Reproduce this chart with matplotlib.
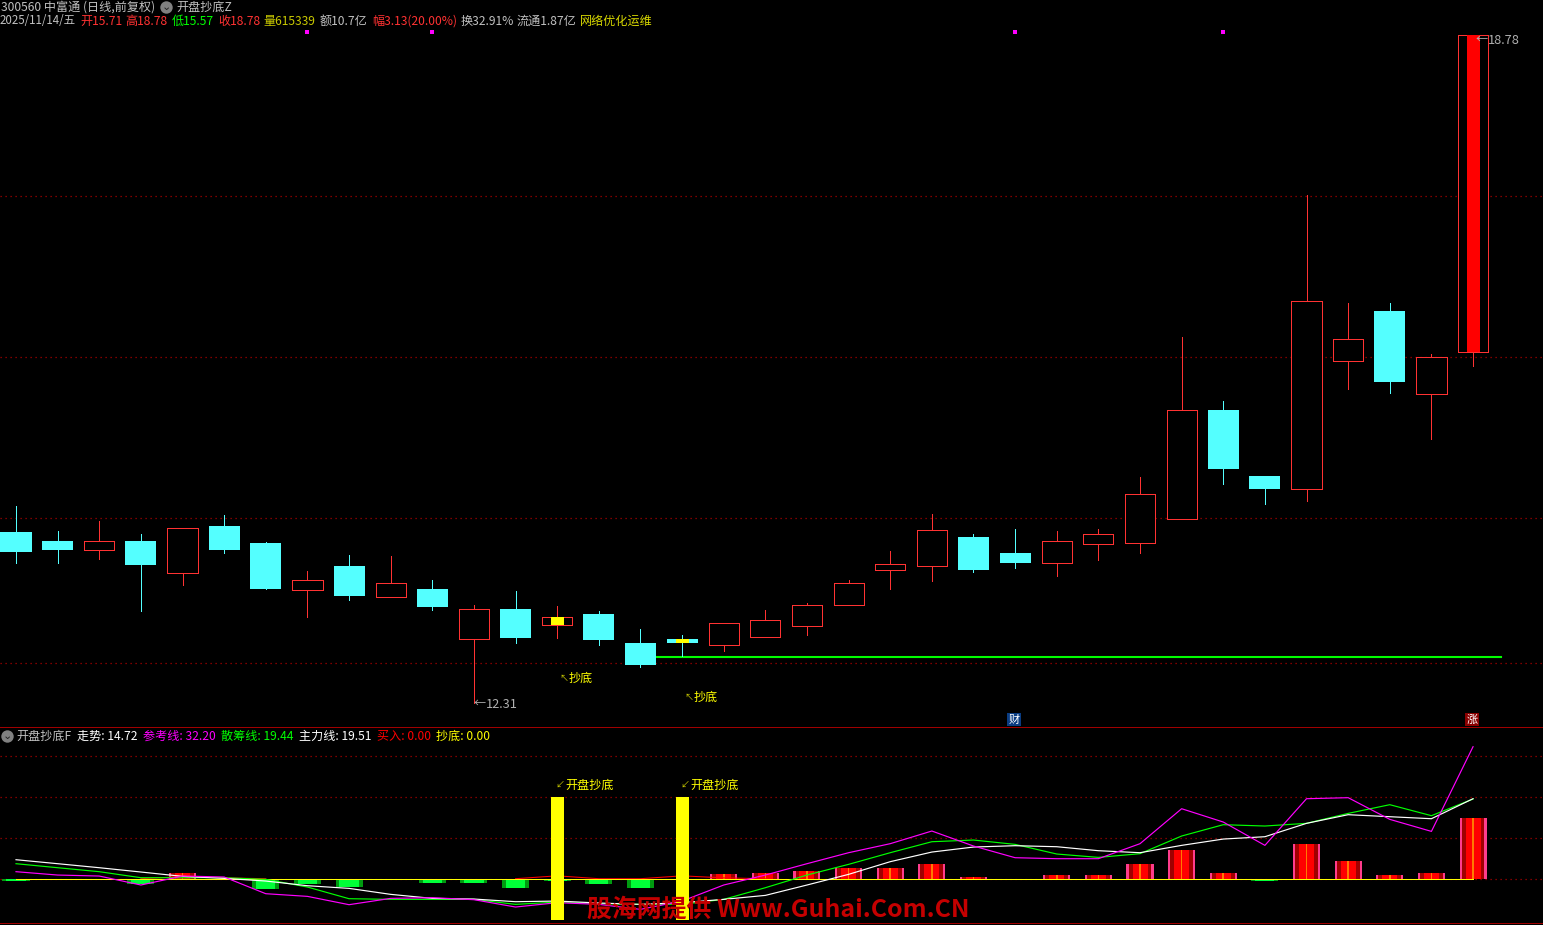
import matplotlib
matplotlib.use('Agg')
import matplotlib.pyplot as plt
import numpy as np

plt.rcParams['font.family'] = ['Noto Sans CJK SC', 'DejaVu Sans']

# K线数据
highs = [14.22, 13.97, 14.07, 13.94, 14.00, 14.13, 13.87, 13.59, 13.74, 13.73, 13.50, 13.26,
         13.39, 13.25, 13.20, 13.02, 12.97, 13.08, 13.21, 13.28, 13.50, 13.78, 14.14, 13.94,
         13.99, 13.97, 13.99, 14.50, 15.85, 15.23, 14.51, 17.23, 16.18, 16.18, 15.69, 18.78]
body_tops = [13.96, 13.88, 13.88, 13.88, 14.00, 14.02, 13.86, 13.50, 13.63, 13.47, 13.41, 13.22,
             13.22, 13.14, 13.17, 12.89, 12.93, 13.08, 13.11, 13.26, 13.47, 13.65, 13.98, 13.92,
             13.76, 13.88, 13.94, 14.33, 15.15, 15.15, 14.51, 16.20, 15.83, 16.11, 15.66, 18.78]
body_bots = [13.77, 13.79, 13.79, 13.64, 13.57, 13.79, 13.41, 13.40, 13.34, 13.33, 13.24, 12.93,
             12.94, 13.06, 12.92, 12.68, 12.89, 12.87, 12.95, 13.05, 13.26, 13.60, 13.63, 13.60,
             13.66, 13.66, 13.85, 13.86, 14.09, 14.57, 14.38, 14.38, 15.62, 15.42, 15.30, 15.71]
lows = [13.66, 13.66, 13.70, 13.20, 13.45, 13.76, 13.41, 13.14, 13.31, 13.33, 13.21, 12.31,
        12.89, 12.94, 12.87, 12.66, 12.76, 12.81, 12.95, 12.97, 13.26, 13.41, 13.49, 13.58,
        13.62, 13.54, 13.69, 13.76, 14.09, 14.43, 14.24, 14.26, 15.35, 15.31, 14.87, 15.57]
up_days = [2, 4, 7, 9, 11, 13, 17, 18, 19, 20, 21, 22, 25, 26, 27, 28, 31, 32, 34, 35]
yellow_days = [13, 16]
price_grid = [17.22, 15.66, 14.10, 12.69]
support_level = 12.75
top_marks = [7, 10, 24, 29]

# 副图指标
trend = [-0.5, -0.3, 0, -1.4, 1.5, -0.2, -2.6, -1.3, -2.1, -0.2, -1.1, -1.1,
         -2.3, -0.5, -1.3, -2.2, 0, 1.2, 1.5, 2.0, 2.5, 2.7, 3.6, 0.3,
         0, 1.0, 1.0, 3.5, 6.9, 1.5, -0.5, 8.5, 4.2, 1.0, 1.3, 14.72]
main_line = [4.63, 3.66, 2.68, 1.63, 0.57, 0.08, -0.57, -1.71, -2.36, -3.82, -4.80, -4.96,
             -5.61, -5.45, -5.93, -6.26, -5.85, -5.04, -4.07, -1.54, 1.06, 4.15, 6.50, 7.72,
             8.05, 7.80, 6.83, 6.34, 8.13, 9.67, 10.24, 13.50, 15.61, 15.12, 14.63, 19.51]
chip_line = [3.66, 2.68, 1.71, 0.24, 0.24, 0.24, -0.16, -2.03, -4.88, -5.04, -5.04, -5.04,
             -6.26, -5.69, -6.10, -6.26, -6.26, -5.04, -2.20, 0.89, 3.50, 6.34, 9.02, 9.43,
             8.37, 6.02, 5.20, 6.10, 10.41, 13.17, 12.85, 13.50, 15.93, 18.05, 15.37, 19.44]
ref_line = [1.71, 0.89, 0.65, -1.54, 0.65, 0.41, -3.66, -4.31, -6.34, -4.80, -4.63, -5.12,
            -6.91, -5.85, -6.26, -7.48, -5.45, -1.54, 0.89, 3.66, 6.34, 8.54, 11.63, 7.97,
            5.12, 4.88, 4.88, 8.54, 17.07, 13.82, 8.13, 19.51, 19.76, 14.47, 11.54, 32.20]
buy_days = [3, 4, 5, 6, 12, 13, 14, 15, 16, 17, 18]
buy_values = [0, 0.5, 0.2, 0, 0, 0.7, 0, 0, 0.7, 0.2, 0]
sub_grid = [30, 20, 10, 0]
stick_top = 20
stick_bottom = -10

RED = '#ff3232'
CYAN = '#54ffff'
YELLOW = '#ffff00'
GRID = '#a80000'
THIN = 0.68
W, H = 1543, 925

fig = plt.figure(figsize=(W / 100, H / 100), dpi=100, facecolor='black')
ax = fig.add_axes([0, 1 - 727 / H, 1, 727 / H], facecolor='black')
ax2 = fig.add_axes([0, 0, 1, 198 / H], facecolor='black')
over = fig.add_axes([0, 0, 1, 1])
over.patch.set_alpha(0)

xlim = (-16 / 41.63, (W - 16) / 41.63)
ax.set_xlim(xlim)
ax.set_ylim(18.78 - (727 - 35) / 103.2, 18.78 + 35 / 103.2)
ax2.set_xlim(xlim)
ax2.set_ylim((878.7 - 925) / 4.1, (878.7 - 727) / 4.1)
over.set_xlim(0, W)
over.set_ylim(H, 0)
for a in (ax, ax2, over):
    a.axis('off')

# 主图
for p in price_grid:
    ax.axhline(p, color=GRID, lw=0.9, ls=(0, (1, 3)), zorder=1)

for i in range(len(highs)):
    if i in up_days:
        ax.vlines(i, body_tops[i], highs[i], color=RED, lw=THIN, zorder=3, antialiased=False)
        ax.vlines(i, lows[i], body_bots[i], color=RED, lw=THIN, zorder=3, antialiased=False)
        ax.bar(i, body_tops[i] - body_bots[i], 0.725, bottom=body_bots[i],
               facecolor='black', edgecolor=RED, lw=THIN, zorder=4, antialiased=False)
    else:
        ax.vlines(i, lows[i], highs[i], color=CYAN, lw=THIN, zorder=3, antialiased=False)
        ax.bar(i, body_tops[i] - body_bots[i], 0.745, bottom=body_bots[i],
               color=CYAN, lw=0, zorder=4)
    if i in yellow_days:
        ax.bar(i, body_tops[i] - body_bots[i], 0.312, bottom=body_bots[i],
               color=YELLOW, lw=0, zorder=5)
ax.bar(35, body_tops[35] - body_bots[35], 0.312, bottom=body_bots[35], color='#ff0000', lw=0, zorder=5)

ax.plot([15.4, 35.67], [support_level, support_level], color='#00ff00', lw=1.5, zorder=2)
ax.scatter(top_marks, [18.81] * len(top_marks), marker='s', s=5, color='#ff00ff', lw=0, zorder=5)

# 副图
for v in sub_grid:
    ax2.axhline(v, color=GRID, lw=0.9, ls=(0, (1, 3)), zorder=1)

for i, v in enumerate(trend):
    if v > 0:
        ax2.bar(i, v, 0.65, color='#ff3c8c', lw=0, zorder=2)
        ax2.bar(i, v, 0.55, color='#a00000', lw=0, zorder=2.1)
        ax2.bar(i, v, 0.36, color='#ff0000', lw=0, zorder=2.2)
        ax2.bar(i, v, 0.04, color='#ff7a00', lw=0, zorder=2.3)
    elif v < 0:
        ax2.bar(i, v, 0.65, color='#009a10', lw=0, zorder=2)
        ax2.bar(i, v, 0.46, color='#00ff38', lw=0, zorder=2.1)

x = np.arange(len(trend))
# 买入线只画非零的几段，其余和抄底线重合
ax2.plot(buy_days[:4], buy_values[:4], color='#ff0000', lw=0.75, zorder=3)
ax2.plot(buy_days[4:], buy_values[4:], color='#ff0000', lw=0.75, zorder=3)
ax2.plot(x, [0] * len(x), color=YELLOW, lw=THIN, zorder=3.2, antialiased=False)
ax2.plot(x, chip_line, color='#00ff00', lw=0.85, zorder=4)
ax2.plot(x, main_line, color='white', lw=0.85, zorder=4.2)
ax2.plot(x, ref_line, color='#ff00ff', lw=0.85, zorder=4.4)
ax2.bar(yellow_days, [stick_top - stick_bottom] * 2, 0.312, bottom=stick_bottom,
        color=YELLOW, lw=0, zorder=5)

# 分隔线
over.plot([0, W], [727, 727], color='#a00000', lw=THIN, antialiased=False)
over.plot([0, W], [923, 923], color='#a00000', lw=THIN, antialiased=False)
over.plot([100, 288], [924.5, 924.5], color='#1a1aa0', lw=0.8)


def label(px, py, s, color='#c0c0c0', size=8.7, ha='left'):
    over.text(px, py, s, color=color, fontsize=size, va='center', ha=ha)


# 顶部文字
label(1, 7, '300560 中富通 (日线,前复权)')
over.scatter([166], [6.5], s=80, color='#808080', lw=0)
over.text(166, 6.5, '⌄', color='#202020', fontsize=8, ha='center', va='center', family='DejaVu Sans')
label(176, 7, '开盘抄底Z')
label(0, 21, '2025/11/14/五', size=8.3)
top_row = [(80, '开15.71', '#ff3232'), (125, '高18.78', '#ff3232'),
           (172, '低15.57', '#00ff00'), (218, '收18.78', '#ff3232'), (263, '量615339', '#c8c800'),
           (320, '额10.7亿', '#c0c0c0'), (372, '幅3.13(20.00%)', '#ff3232'), (461, '换32.91%', '#c0c0c0'),
           (517, '流通1.87亿', '#c0c0c0'), (580, '网络优化运维', '#d8d800')]
for px, s, c in top_row:
    label(px, 21, s, c)

# 副图标题
over.scatter([7], [736], s=80, color='#808080', lw=0)
over.text(7, 736, '⌄', color='#202020', fontsize=8, ha='center', va='center', family='DejaVu Sans')
sub_row = [(16, '开盘抄底F', '#c0c0c0'), (77, '走势: 14.72', '#ffffff'), (143, '参考线: 32.20', '#ff00ff'),
           (221, '散筹线: 19.44', '#00ff00'), (299, '主力线: 19.51', '#ffffff'), (377, '买入: 0.00', '#ff0000'),
           (436, '抄底: 0.00', '#ffff00')]
for px, s, c in sub_row:
    label(px, 736, s, c)

# 标注
label(568.5, 678, '↖', '#c8c800', size=6.5, ha='right')
label(569, 678, '抄底', YELLOW)
label(693.5, 697, '↖', '#c8c800', size=6.5, ha='right')
label(694, 697, '抄底', YELLOW)
label(564.5, 785, '↙', '#c8c800', size=6.5, ha='right')
label(565, 785, '开盘抄底', YELLOW)
label(689.5, 785, '↙', '#c8c800', size=6.5, ha='right')
label(690, 785, '开盘抄底', YELLOW)
label(485.5, 703, '←', '#b0b0b0', ha='right')
label(486, 704, '12.31', '#b0b0b0', size=9.2)
label(1487.5, 39, '←', '#b0b0b0', ha='right')
label(1488, 40, '18.78', '#b0b0b0', size=9.2)

# 财 / 涨 图标
over.text(1014, 719.5, '财', color='white', fontsize=8, ha='center', va='center',
          bbox=dict(facecolor='#0a3c82', edgecolor='none', pad=1))
over.text(1472, 719.5, '涨', color='white', fontsize=8, ha='center', va='center',
          bbox=dict(facecolor='#8a0000', edgecolor='none', pad=1))

# 水印
over.text(587, 910, '股海网提供 Www.Guhai.Com.CN', color='#c40000', fontsize=17.9,
          fontweight='bold', ha='left', va='center', zorder=10)

fig.savefig('out.png', dpi=100, facecolor='black')
